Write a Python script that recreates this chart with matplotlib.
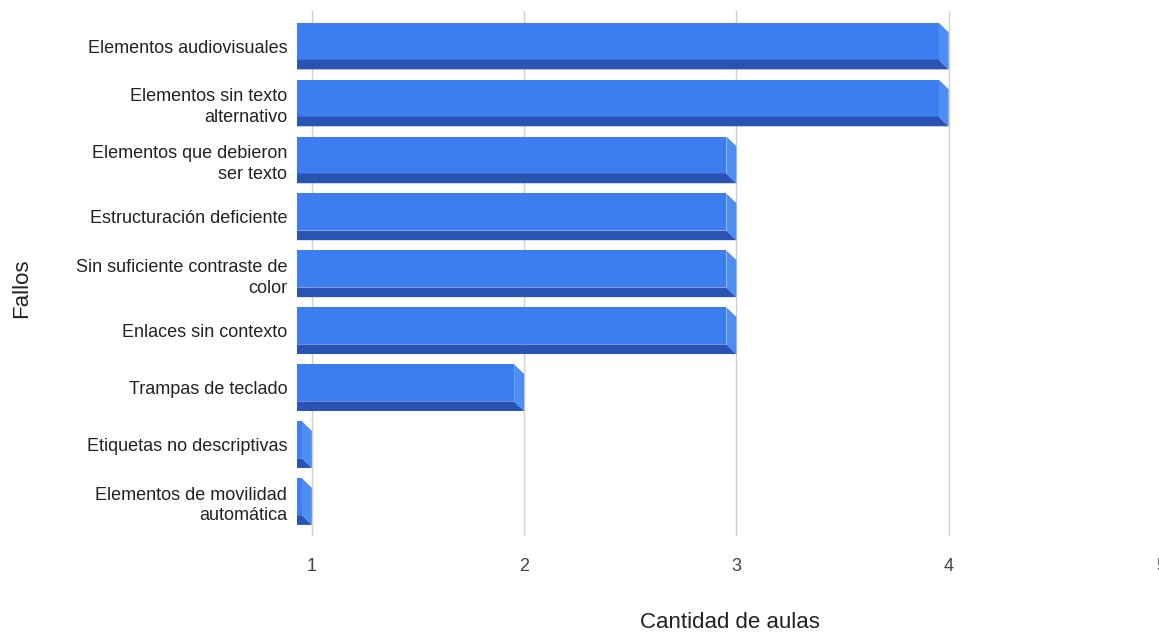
import numpy as np
import matplotlib
matplotlib.use("Agg")
import matplotlib.pyplot as plt
from matplotlib.patches import Polygon

# data
categories = [
    "Elementos audiovisuales",
    "Elementos sin texto\nalternativo",
    "Elementos que debieron\nser texto",
    "Estructuración deficiente",
    "Sin suficiente contraste de\ncolor",
    "Enlaces sin contexto",
    "Trampas de teclado",
    "Etiquetas no descriptivas",
    "Elementos de movilidad\nautomática",
]
values = [4, 4, 3, 3, 3, 3, 2, 1, 1]
xticks = [1, 2, 3, 4, 5]

plt.rcParams['font.family'] = ['Liberation Sans', 'DejaVu Sans']

W, H = 1159, 637
fig = plt.figure(figsize=(W / 100, H / 100), dpi=100)

# axes placement in pixels
left_px, right_px = 297, 1162
top_px, bot_px = 10.7, 535.7
ax = fig.add_axes([left_px / W, 1 - bot_px / H,
                   (right_px - left_px) / W, (bot_px - top_px) / H])

x0 = 0.93
ax.set_xlim(x0, 5.005)
ax.set_ylim(8.6, -0.62)

front = "#3c7ef0"
dark = "#2954b3"
side = "#4d8ef6"
h = 0.41      # half bar height
dx = 0.047    # 3d depth in x
dy = 0.17     # 3d depth in y

y = np.arange(len(values))
for yi, v in zip(y, values):
    t, b = yi - h, yi + h
    # front face
    ax.add_patch(Polygon([(x0, t), (v - dx, t), (v - dx, b - dy), (x0, b - dy)],
                         closed=True, fc=front, ec="none", zorder=3))
    # bottom face
    ax.add_patch(Polygon([(x0, b - dy), (v - dx, b - dy), (v, b), (x0, b)],
                         closed=True, fc=dark, ec="none", zorder=3))
    # right side
    ax.add_patch(Polygon([(v - dx, t), (v, t + dy), (v, b), (v - dx, b - dy)],
                         closed=True, fc=side, ec="none", zorder=3))

for xt in xticks:
    ax.axvline(xt, color="#d0d0d0", lw=1, zorder=1)

ax.set_yticks(y)
ax.set_yticklabels(categories, fontsize=13, color="#222222", linespacing=1.3)
for lab in ax.get_yticklabels():
    lab.set_multialignment("right")
ax.set_xticks(xticks)
ax.set_xticklabels([str(t) for t in xticks], fontsize=13, color="#444444")
ax.tick_params(axis="y", length=0, pad=7)
ax.tick_params(axis="x", length=0, pad=16)
for s in ax.spines.values():
    s.set_visible(False)

fig.text(730 / W, 1 - 623 / H, "Cantidad de aulas", fontsize=16,
         color="#222222", ha="center", va="center")
fig.text(22 / W, 1 - 288 / H, "Fallos", fontsize=16, rotation=90,
         color="#222222", ha="center", va="center")

fig.savefig("out.png", dpi=100)
